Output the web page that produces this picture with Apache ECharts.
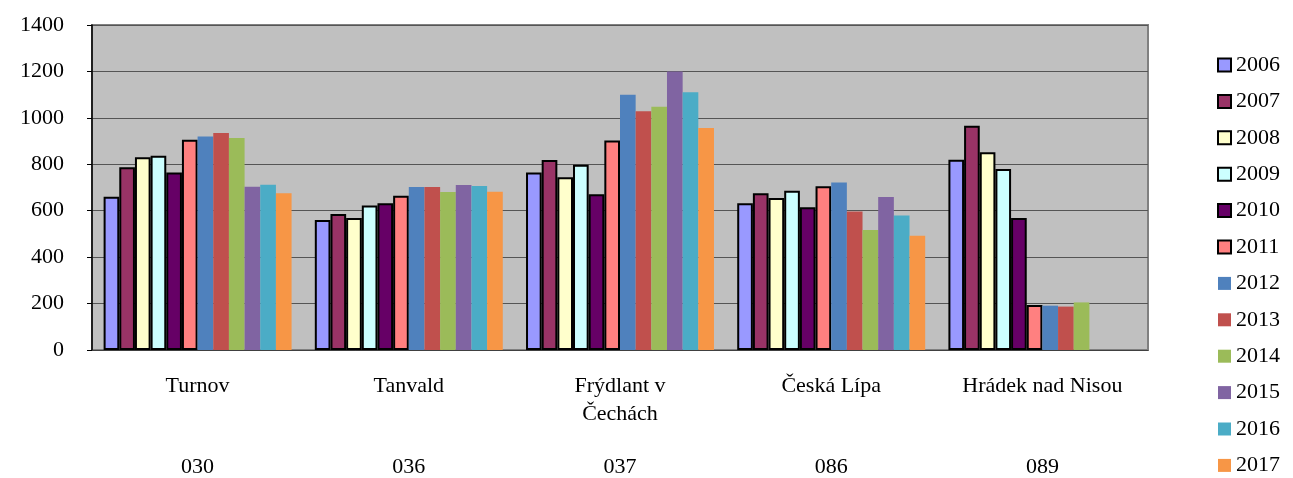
<!DOCTYPE html>
<html>
<head>
<meta charset="utf-8">
<script src="https://cdn.jsdelivr.net/npm/echarts@6/dist/echarts.min.js"></script>
<style>
  html, body { margin: 0; padding: 0; background: #fff; }
  #chart { width: 1293px; height: 478px; }
</style>
</head>
<body>
<div id="chart"></div>
<script>
// categories (name + district code)
const towns = ["Turnov", "Tanvald", "Frýdlant v\nČechách", "Česká Lípa", "Hrádek nad Nisou"];
const codes = ["030", "036", "037", "086", "089"];
const years = ["2006", "2007", "2008", "2009", "2010", "2011",
               "2012", "2013", "2014", "2015", "2016", "2017"];

// one array per year, values per town
const v2006 = [660, 560, 765, 632, 820];
const v2007 = [787, 586, 819, 675, 966];
const v2008 = [830, 569, 744, 655, 852];
const v2009 = [837, 622, 798, 686, 780];
const v2010 = [765, 632, 671, 615, 569];
const v2011 = [906, 665, 902, 705, 194];
const v2012 = [920, 702, 1100, 722, 191];
const v2013 = [935, 702, 1028, 597, 187];
const v2014 = [913, 681, 1048, 517, 205];
const v2015 = [703, 711, 1200, 659, null];
const v2016 = [712, 707, 1110, 579, null];
const v2017 = [675, 682, 956, 492, null];

const yTicks = [0, 200, 400, 600, 800, 1000, 1200, 1400];

const seriesValues = [v2006, v2007, v2008, v2009, v2010, v2011,
                      v2012, v2013, v2014, v2015, v2016, v2017];
const colors = ["#9999FF", "#993366", "#FFFFCC", "#CCFFFF", "#660066", "#FF8080",
                "#4F81BD", "#C0504D", "#9BBB59", "#8064A2", "#4BACC6", "#F79646"];

const font = "'Liberation Serif', 'DejaVu Serif', serif";
const chart = echarts.init(document.getElementById("chart"), null, { renderer: "canvas" });

const series = years.map((y, i) => ({
    name: y,
    type: "bar",
    xAxisIndex: 0,
    data: seriesValues[i],
    barGap: "0%",
    barCategoryGap: "11%",
    itemStyle: i < 6
        ? { color: colors[i], borderColor: "#000", borderWidth: 2 }
        : { color: colors[i], borderWidth: 0 },
}));

chart.setOption({
    backgroundColor: "#fff",
    animation: false,
    textStyle: { fontFamily: font },
    grid: {
        left: 92, right: 145, top: 25, bottom: 127,
        show: true, backgroundColor: "#C0C0C0",
        borderColor: "#808080", borderWidth: 2,
    },
    legend: {
        orient: "vertical",
        left: 1217, top: 54,
        padding: 0,
        itemWidth: 13, itemHeight: 13,
        itemGap: 14.4,
        icon: "rect",
        textStyle: { fontFamily: font, fontSize: 22, color: "#000" },
        data: years,
    },
    xAxis: [
        {
            type: "category",
            data: towns,
            position: "bottom",
            axisLine: { lineStyle: { color: "#404040", width: 1 } },
            axisTick: { show: false },
            axisLabel: { fontFamily: font, fontSize: 22, color: "#000", margin: 22, lineHeight: 28, interval: 0 },
        },
        {
            type: "category",
            data: codes,
            position: "bottom",
            offset: 85,
            axisLine: { show: false },
            axisTick: { show: false },
            axisLabel: { fontFamily: font, fontSize: 22, color: "#000", margin: 21, interval: 0 },
        },
    ],
    yAxis: {
        type: "value",
        min: yTicks[0],
        max: yTicks[yTicks.length - 1],
        interval: 200,
        axisLine: { show: true, lineStyle: { color: "#000", width: 1.5 } },
        axisTick: { show: true, length: 5, inside: false, lineStyle: { color: "#000" } },
        axisLabel: { fontFamily: font, fontSize: 22, color: "#000", margin: 28, formatter: (v) => String(v) },
        splitLine: { show: true, lineStyle: { color: "#555", width: 1 } },
    },
    series,
});
</script>
</body>
</html>
